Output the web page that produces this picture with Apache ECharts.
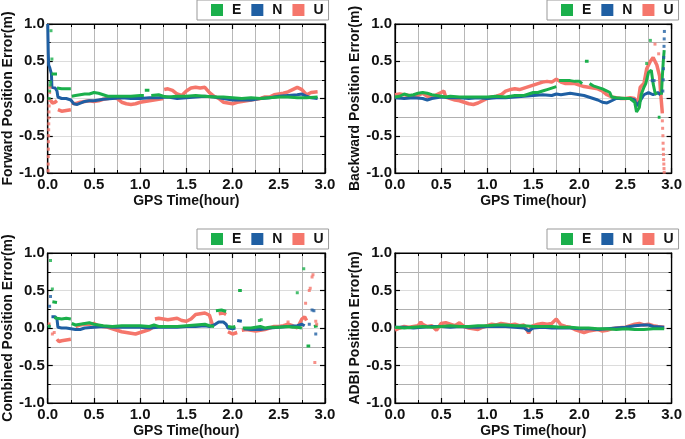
<!DOCTYPE html>
<html><head><meta charset="utf-8">
<script src="https://cdn.jsdelivr.net/npm/echarts@6/dist/echarts.min.js"></script>
<style>html,body{margin:0;padding:0;background:#fff}#c{width:685px;height:439px}</style>
</head><body><div id="c"></div>
<script>
// ---------- data (hour, error m); null = gap in trace ----------
const panelNames = ['Forward Position Error(m)','Backward Position Error(m)','Combined Position Error(m)','ADBI Position Error(m)'];
const seriesNames = ['E','N','U'];
const xTickLabels = ['0.0','0.5','1.0','1.5','2.0','2.5','3.0'];
const yTickLabels = ['-1.0','-0.5','0.0','0.5','1.0'];

// Forward
const fwdE = [[0.04,0.33],[0.1,0.33],null,[0.1,0.14],[0.15,0.13],[0.2,0.13],[0.25,0.13],null,[0.26,0.03],[0.3,0.04],[0.35,0.05],[0.4,0.06],[0.45,0.06],[0.5,0.08],[0.55,0.07],[0.6,0.05],[0.65,0.03],[0.7,0.03],[0.8,0.03],[0.9,0.03],[1.0,0.04],[1.04,0.04],null,[1.05,0.11],[1.1,0.11],null,[1.12,0.04],[1.2,0.05],[1.25,0.03],[1.3,0.02],[1.4,0.03],[1.5,0.03],[1.6,0.04],[1.7,0.03],[1.8,0.02],[1.9,0.02],[2.0,0.01],[2.1,0.0],[2.2,0.01],[2.3,0.0],[2.4,0.01],[2.5,0.02],[2.6,0.02],[2.7,0.01],[2.8,0.01],[2.92,0.02]];
const fwdEDots = [[0.035,0.91],[0.045,0.53],[0.015,0.0],[0.02,0.1],[0.025,0.18],[0.03,0.22]];
const fwdN = [[0.0,1.0],[0.003,0.8],[0.006,0.6],[0.01,0.45],[0.02,0.42],[0.03,0.4],[0.04,0.33],[0.045,0.15],[0.08,0.14],[0.1,0.1],[0.11,0.02],[0.15,0.0],[0.2,0.0],[0.25,-0.02],[0.28,-0.07],[0.32,-0.08],[0.36,-0.06],[0.4,-0.04],[0.45,-0.03],[0.5,-0.03],[0.55,-0.02],[0.6,-0.01],[0.7,0.0],[0.8,0.01],[0.9,0.0],[1.0,0.0],[1.1,0.01],[1.2,0.01],[1.3,0.02],[1.4,0.0],[1.5,0.01],[1.6,0.02],[1.7,0.03],[1.8,0.02],[1.9,0.0],[2.0,-0.02],[2.1,-0.02],[2.2,-0.02],[2.3,0.0],[2.4,0.01],[2.5,0.03],[2.6,0.04],[2.7,0.05],[2.75,0.06],[2.8,0.03],[2.85,0.01],[2.92,0.0]];
const fwdNDots = [];
const fwdU = [[0.03,-0.02],[0.05,-0.06],[0.08,-0.05],[0.1,-0.03],null,[0.11,-0.15],[0.15,-0.17],[0.2,-0.16],[0.25,-0.15],null,[0.26,-0.06],[0.3,-0.07],[0.35,-0.05],[0.4,-0.04],[0.45,-0.03],[0.5,-0.04],[0.55,-0.03],[0.6,-0.01],[0.65,0.0],[0.7,0.01],[0.75,0.0],[0.8,-0.05],[0.85,-0.07],[0.9,-0.08],[0.95,-0.07],[1.0,-0.05],[1.05,-0.04],[1.1,-0.03],[1.15,-0.02],[1.2,-0.01],[1.25,0.0],null,[1.26,0.12],[1.3,0.13],[1.35,0.11],[1.4,0.06],[1.45,0.04],[1.5,0.1],[1.55,0.14],[1.6,0.15],[1.65,0.14],[1.7,0.15],[1.75,0.08],[1.8,0.03],[1.85,0.0],[1.9,-0.05],[1.95,-0.06],[2.0,-0.07],[2.05,-0.05],[2.1,-0.04],[2.15,-0.03],[2.2,-0.02],[2.25,-0.01],[2.3,0.0],[2.35,0.02],[2.4,0.02],[2.45,0.05],[2.5,0.06],[2.55,0.07],[2.6,0.09],[2.65,0.12],[2.7,0.15],[2.72,0.17],[2.75,0.12],[2.8,0.05],[2.85,0.08],[2.92,0.09]];
const fwdUDots = [[0.004,-0.97],[0.005,-0.88],[0.006,-0.78],[0.007,-0.68],[0.008,-0.58],[0.009,-0.5],[0.01,-0.42],[0.011,-0.34],[0.012,-0.26],[0.013,-0.18],[0.015,-0.1],[0.017,-0.02],[0.02,0.08],[0.025,0.15]];

// Backward
const bwdE = [[0.0,0.02],[0.05,0.03],[0.1,0.06],[0.15,0.04],[0.2,0.05],[0.25,0.07],[0.3,0.08],[0.35,0.07],[0.4,0.05],[0.45,0.04],[0.5,0.03],[0.55,0.02],[0.6,0.03],[0.7,0.02],[0.8,0.02],[0.9,0.02],[1.0,0.02],[1.1,0.03],[1.2,0.02],[1.3,0.04],[1.4,0.04],[1.5,0.08],[1.55,0.08],[1.6,0.1],[1.65,0.12],[1.7,0.14],[1.75,0.16],null,[1.78,0.24],[1.85,0.24],[1.9,0.24],[1.95,0.23],[2.0,0.23],[2.03,0.2],null,[2.06,0.5],[2.1,0.5],null,[2.11,0.2],[2.15,0.17],[2.2,0.15],[2.25,0.13],[2.3,0.1],[2.33,0.08],[2.35,0.02],[2.4,0.01],[2.5,0.0],[2.55,0.0],[2.6,-0.05],[2.62,-0.18],[2.65,-0.12],[2.67,0.05],[2.7,0.15],[2.72,0.2],[2.75,0.35],[2.78,0.38],[2.8,0.2],[2.82,0.08],[2.84,0.05],null,[2.85,-0.25],[2.88,-0.25],null,[2.89,0.05],[2.9,0.3],[2.91,0.5],[2.92,0.65]];
const bwdEDots = [[2.73,0.47],[2.77,0.78]];
const bwdN = [[0.0,0.01],[0.1,0.0],[0.2,0.01],[0.3,0.0],[0.35,-0.02],[0.4,0.0],[0.5,0.02],[0.6,0.01],[0.7,0.01],[0.8,0.0],[0.9,0.01],[1.0,0.0],[1.1,0.01],[1.2,0.01],[1.3,0.02],[1.4,0.03],[1.5,0.04],[1.6,0.05],[1.7,0.04],[1.75,0.06],[1.8,0.05],[1.9,0.07],[1.95,0.06],[2.0,0.05],[2.05,0.04],[2.1,0.02],[2.15,0.0],[2.2,-0.02],[2.25,-0.05],[2.3,-0.06],[2.35,-0.03],[2.4,0.0],[2.5,0.0],[2.55,0.0],[2.6,-0.02],[2.62,-0.1],[2.65,-0.05],[2.7,0.05],[2.75,0.08],[2.8,0.05],[2.85,0.08],[2.88,0.05]];
const bwdNDots = [[2.79,0.24],[2.81,0.24],[2.905,0.1],[2.91,0.25],[2.912,0.4],[2.915,0.55],[2.918,0.7],[2.92,0.8],[2.922,0.9]];
const bwdU = [[0.0,0.05],[0.05,0.06],[0.1,0.05],[0.15,0.04],[0.2,0.03],[0.25,0.04],[0.3,0.07],[0.35,0.03],[0.4,0.02],[0.45,0.05],[0.5,0.08],[0.53,0.1],[0.55,0.02],[0.6,0.0],[0.65,-0.02],[0.7,-0.03],[0.75,-0.05],[0.8,-0.07],[0.85,-0.08],[0.9,-0.06],[0.95,-0.03],[1.0,0.0],[1.05,0.02],[1.1,0.03],[1.15,0.05],[1.2,0.1],[1.25,0.12],[1.3,0.13],[1.35,0.12],[1.4,0.14],[1.45,0.16],[1.5,0.18],[1.55,0.2],[1.6,0.22],[1.65,0.23],[1.7,0.22],[1.75,0.26],[1.8,0.22],[1.85,0.2],[1.9,0.2],[1.95,0.2],[2.0,0.18],[2.05,0.16],[2.1,0.15],[2.15,0.14],[2.2,0.13],[2.25,0.1],[2.3,0.05],[2.35,0.02],[2.4,0.01],[2.45,0.0],[2.5,0.0],[2.55,0.01],[2.6,0.0],[2.63,-0.1],[2.66,0.15],[2.7,0.2],[2.73,0.4],[2.77,0.5],[2.8,0.55],[2.84,0.45],[2.87,0.3],[2.88,0.1],[2.9,-0.2]];
const bwdUDots = [[2.82,0.73],[2.86,0.6],[2.9,-0.3],[2.903,-0.4],[2.906,-0.5],[2.908,-0.6],[2.91,-0.68],[2.912,-0.75],[2.914,-0.82],[2.916,-0.88],[2.918,-0.94],[2.92,-0.99]];

// Combined
const cmbE = [[0.0,0.02],[0.03,0.03],null,[0.05,0.35],[0.1,0.34],null,[0.07,0.14],[0.1,0.13],[0.15,0.12],[0.2,0.13],[0.25,0.12],null,[0.26,0.06],[0.3,0.04],[0.35,0.05],[0.4,0.06],[0.45,0.07],[0.5,0.05],[0.55,0.04],[0.6,0.03],[0.7,0.02],[0.8,0.03],[0.9,0.03],[1.0,0.03],[1.1,0.02],[1.15,0.04],[1.2,0.02],[1.3,0.02],[1.4,0.02],[1.5,0.03],[1.6,0.04],[1.7,0.05],[1.75,0.03],[1.8,0.02],null,[1.82,0.23],[1.88,0.24],[1.93,0.22],null,[1.95,0.02],[2.0,0.01],[2.03,0.02],null,[2.06,0.5],[2.1,0.5],null,[2.11,0.0],[2.2,0.0],[2.25,0.01],[2.3,0.02],[2.35,0.0],[2.4,0.01],[2.5,0.01],[2.6,0.02],[2.65,0.01],[2.7,0.01],[2.75,0.0],null,[2.8,-0.24],[2.84,-0.24],null,[2.88,0.02],[2.92,0.03]];
const cmbEDots = [[0.03,0.9],[0.05,0.52],[2.29,0.1],[2.31,0.11],[2.7,0.47],[2.77,0.79]];
const cmbN = [[0.0,0.02],[0.03,0.02],null,[0.04,0.15],[0.08,0.15],[0.1,0.12],[0.11,0.01],[0.15,0.0],[0.2,0.0],[0.25,-0.01],[0.3,-0.02],[0.35,-0.02],[0.4,0.0],[0.5,0.01],[0.6,0.02],[0.7,0.01],[0.8,0.01],[0.9,0.01],[1.0,0.01],[1.1,0.0],[1.2,0.01],[1.3,0.01],[1.4,0.01],[1.5,0.02],[1.6,0.02],[1.7,0.03],[1.75,0.02],[1.8,0.04],[1.85,0.08],[1.9,0.08],[1.93,0.05],[1.95,0.0],[2.0,-0.01],[2.03,0.0],null,[2.05,0.1],[2.1,0.09],null,[2.12,-0.01],[2.2,-0.02],[2.3,-0.02],[2.35,-0.01],[2.4,0.0],[2.5,0.01],[2.6,0.02],[2.7,0.03],[2.75,0.05],[2.78,0.03]];
const cmbNDots = [[0.03,0.42],[0.02,0.29],[2.83,0.05],[2.86,0.24],[2.88,0.23],[2.9,-0.08]];
const cmbU = [[0.0,0.05],[0.03,0.05],null,[0.1,-0.15],[0.12,-0.18],[0.15,-0.17],[0.2,-0.16],[0.25,-0.15],null,[0.3,0.02],[0.35,0.04],[0.4,0.05],[0.45,0.05],[0.5,0.06],[0.55,0.03],[0.6,0.02],[0.65,0.01],[0.7,-0.01],[0.75,-0.03],[0.8,-0.05],[0.85,-0.06],[0.9,-0.07],[0.95,-0.08],[1.0,-0.06],[1.05,-0.04],[1.1,-0.02],[1.15,0.02],null,[1.16,0.12],[1.2,0.13],[1.25,0.12],[1.3,0.11],[1.35,0.12],[1.4,0.13],[1.45,0.1],[1.5,0.09],[1.55,0.12],[1.6,0.18],[1.65,0.19],[1.7,0.2],[1.75,0.17],[1.78,0.05],[1.8,0.03],null,[1.85,0.19],[1.9,0.2],[1.93,0.18],null,[1.95,-0.05],[2.0,-0.08],[2.05,-0.06],null,[2.1,-0.03],[2.15,-0.02],[2.2,-0.03],[2.25,-0.04],[2.3,-0.03],[2.35,-0.02],[2.4,0.0],[2.45,0.02],[2.5,0.02],[2.55,0.03],[2.6,0.05],[2.65,0.03],[2.7,0.0],[2.75,0.12],[2.78,0.15],[2.8,0.1]];
const cmbUDots = [[0.05,-0.08],[0.07,-0.06],[2.6,0.08],[2.79,0.33],[2.83,0.5],[2.84,0.53],[2.86,0.68],[2.87,0.71],[2.89,-0.46],[2.9,0.09],[2.91,0.05]];

// ADBI
const adbE = [[0.0,0.01],[0.1,0.0],[0.2,0.01],[0.3,0.02],[0.4,0.01],[0.5,0.02],[0.6,0.03],[0.7,0.02],[0.8,0.02],[0.9,0.03],[1.0,0.03],[1.1,0.04],[1.2,0.04],[1.3,0.03],[1.4,0.03],[1.5,0.02],[1.6,0.02],[1.7,0.02],[1.8,0.01],[1.9,0.01],[2.0,0.0],[2.1,0.0],[2.2,-0.01],[2.3,-0.01],[2.4,-0.02],[2.5,-0.01],[2.6,-0.02],[2.7,-0.02],[2.8,-0.01],[2.92,-0.01]];
const adbEDots = [];
const adbN = [[0.0,0.01],[0.1,0.01],[0.2,0.0],[0.3,0.01],[0.4,0.02],[0.5,0.02],[0.6,0.01],[0.7,0.02],[0.8,0.01],[0.9,0.01],[1.0,0.02],[1.1,0.02],[1.2,0.02],[1.3,0.01],[1.4,0.0],[1.45,-0.04],[1.5,0.0],[1.6,0.01],[1.7,0.0],[1.8,0.0],[1.9,0.0],[2.0,-0.01],[2.1,-0.01],[2.2,-0.02],[2.3,-0.01],[2.4,0.0],[2.5,0.01],[2.6,0.03],[2.7,0.04],[2.75,0.04],[2.8,0.02],[2.92,0.01]];
const adbNDots = [];
const adbU = [[0.0,-0.03],[0.05,0.0],[0.1,0.02],[0.15,0.01],[0.2,0.02],[0.25,0.03],[0.28,0.08],[0.3,0.05],[0.35,0.02],[0.4,0.03],[0.45,-0.03],[0.5,0.06],[0.55,0.07],[0.6,0.05],[0.65,0.03],[0.7,0.07],[0.75,0.02],[0.8,0.0],[0.85,-0.01],[0.9,-0.02],[0.95,0.01],[1.0,0.03],[1.05,0.05],[1.1,0.04],[1.15,0.06],[1.2,0.05],[1.25,0.04],[1.3,0.05],[1.35,0.03],[1.4,0.04],[1.45,-0.07],[1.48,0.02],[1.5,0.04],[1.55,0.05],[1.6,0.06],[1.65,0.05],[1.7,0.06],[1.75,0.12],[1.8,0.04],[1.85,0.02],[1.9,0.01],[1.95,-0.02],[2.0,-0.04],[2.05,-0.06],[2.1,-0.04],[2.15,-0.03],[2.2,-0.02],[2.25,-0.04],[2.3,-0.03],[2.35,-0.01],[2.4,0.0],[2.5,0.01],[2.55,0.03],[2.6,0.05],[2.65,0.06],[2.7,0.04],[2.75,0.05],[2.8,0.03],[2.85,0.02],[2.92,0.01]];
const adbUDots = [];

// ---------- chart ----------
const colors = {E:'#1aaf4b', N:'#1f5fa3', U:'#f5766b'};
const FONT = '"Liberation Sans", Arial, sans-serif';
const panels = [
  {E:fwdE, Ed:fwdEDots, N:fwdN, Nd:fwdNDots, U:fwdU, Ud:fwdUDots},
  {E:bwdE, Ed:bwdEDots, N:bwdN, Nd:bwdNDots, U:bwdU, Ud:bwdUDots},
  {E:cmbE, Ed:cmbEDots, N:cmbN, Nd:cmbNDots, U:cmbU, Ud:cmbUDots},
  {E:adbE, Ed:adbEDots, N:adbN, Nd:adbNDots, U:adbU, Ud:adbUDots}
];
const gridPos = [
  {left:46, top:24, width:279, height:149},
  {left:395, top:24, width:279, height:149},
  {left:46, top:253, width:279, height:150},
  {left:395, top:253, width:279, height:150}
];
const legendPos = [{left:197,top:0},{left:547,top:0},{left:197,top:229},{left:547,top:229}];

const grids = [], xAxes = [], yAxes = [], series = [], legends = [];
const fmt1 = v => v.toFixed(1);
panels.forEach((p, i) => {
  grids.push(Object.assign({show:true, borderColor:'#000', borderWidth:1.2, backgroundColor:'transparent'}, gridPos[i]));
  const common = {type:'value', gridIndex:i, axisLine:{show:true, onZero:false, lineStyle:{color:'#000', width:1.2}},
    axisTick:{show:true, inside:true, length:5, lineStyle:{color:'#000', width:1.2}},
    minorTick:{show:true, splitNumber:2, length:3, lineStyle:{color:'#000'}}};
  xAxes.push(Object.assign({}, common, {min:0, max:3, interval:0.5, position:'bottom',
    name:'GPS Time(hour)', nameLocation:'middle', nameGap:21,
    nameTextStyle:{fontFamily:FONT, fontWeight:'bold', fontSize:14, color:'#111'},
    axisLabel:{formatter:v => xTickLabels[Math.round(v/0.5)], fontFamily:FONT, fontWeight:'bold', fontSize:15, color:'#111', margin:4},
    splitLine:{show:true, lineStyle:{color:'#b8b8b8', width:1}},
    minorSplitLine:{show:true, lineStyle:{color:'#b8b8b8', width:1}}}));
  xAxes.push(Object.assign({}, common, {min:0, max:3, interval:0.5, position:'top', axisLabel:{show:false}, splitLine:{show:false}}));
  yAxes.push(Object.assign({}, common, {min:-1, max:1, interval:0.5, position:'left',
    name:panelNames[i], nameLocation:'middle', nameGap:30,
    nameTextStyle:{fontFamily:FONT, fontWeight:'bold', fontSize:14, color:'#111'},
    axisLabel:{formatter:v => yTickLabels[Math.round((v+1)/0.5)], fontFamily:FONT, fontWeight:'bold', fontSize:15, color:'#111', margin:3},
    splitLine:{show:true, lineStyle:{color:'#dcdcdc', width:1}},
    minorSplitLine:{show:true, lineStyle:{color:'#b0b0b0', width:1}}}));
  yAxes.push(Object.assign({}, common, {min:-1, max:1, interval:0.5, position:'right', axisLabel:{show:false}, splitLine:{show:false}}));
  const xi = i*2, yi = i*2;
  ['U','N','E'].forEach(k => {
    series.push({type:'line', name:k, xAxisIndex:xi, yAxisIndex:yi, data:p[k].map(d => d === null ? ['-','-'] : d),
      showSymbol:false, symbol:'none', connectNulls:false, animation:false, silent:true,
      lineStyle:{color:colors[k], width: k==='U' ? 3.5 : 3}, itemStyle:{color:colors[k]}, z:3});
    series.push({type:'scatter', name:k, xAxisIndex:xi, yAxisIndex:yi, data:p[k+'d'],
      symbol:'rect', symbolSize:3, animation:false, silent:true, itemStyle:{color:colors[k]}, z:3});
  });
  legends.push(Object.assign({data:seriesNames, icon:'rect', itemWidth:12, itemHeight:12, itemGap:10,
    orient:'horizontal', borderColor:'#999', borderWidth:1, padding:[3,5,3,14], selectedMode:false,
    textStyle:{fontFamily:FONT, fontWeight:'bold', fontSize:14, color:'#111', padding:[0,0,0,4]}}, legendPos[i]));
});

const chart = echarts.init(document.getElementById('c'), null, {renderer:'canvas'});
chart.setOption({animation:false, backgroundColor:'#fff', grid:grids, xAxis:xAxes, yAxis:yAxes, series:series, legend:legends});
</script></body></html>
